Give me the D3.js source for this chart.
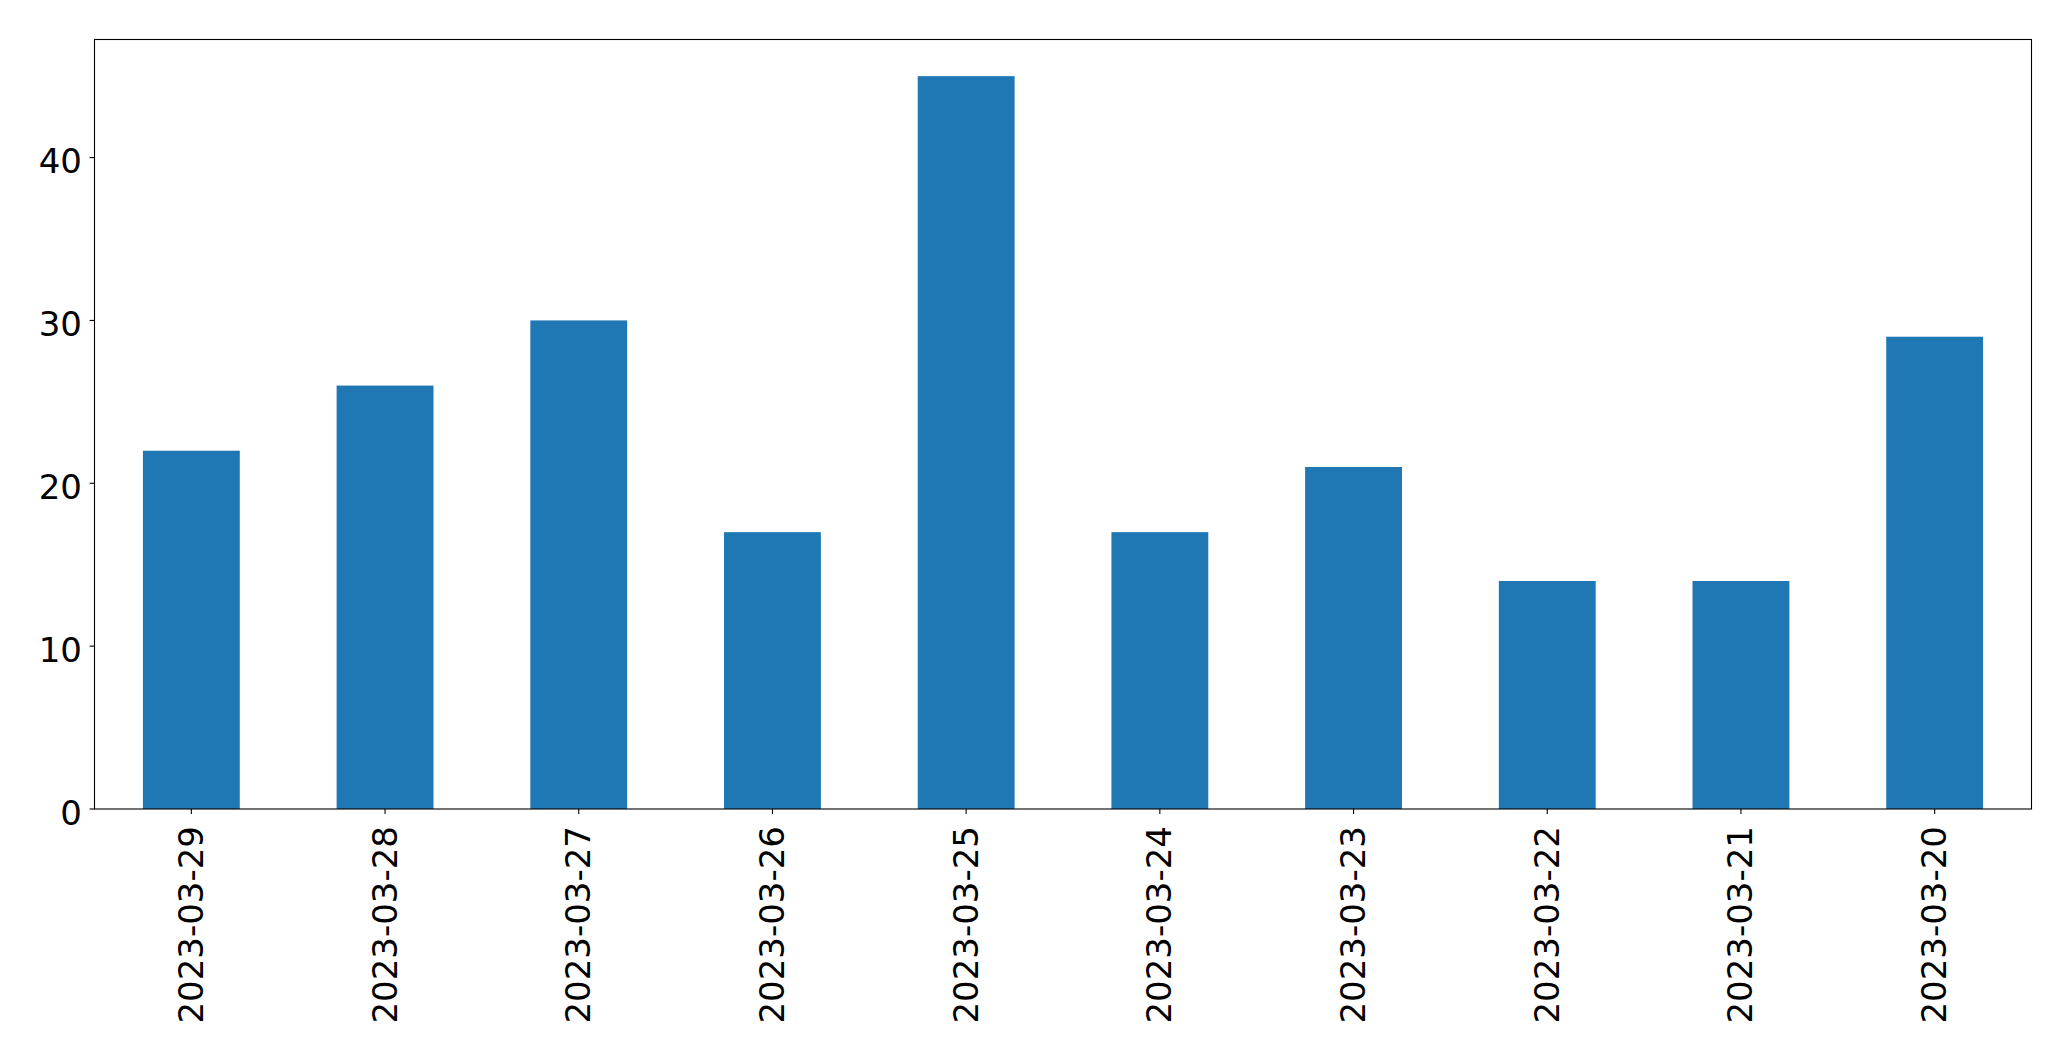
<html>
<head>
<style>
    body { margin: 0; background: #fff; }
    text { font-family: "DejaVu Sans", sans-serif; font-size: 34px; fill: #000; }
</style>
</head>
<body>
<div id="target"></div>
<script src="https://cdnjs.cloudflare.com/ajax/libs/d3/7.8.5/d3.min.js"></script>
<script>
    // data
    var dates = ['2023-03-29', '2023-03-28', '2023-03-27', '2023-03-26', '2023-03-25',
                 '2023-03-24', '2023-03-23', '2023-03-22', '2023-03-21', '2023-03-20'];
    var counts = [22, 26, 30, 17, 45, 17, 21, 14, 14, 29];
    var yTicks = [0, 10, 20, 30, 40];

    var width = 2071, height = 1061;
    // plot frame (window.top is reserved, so use a prefix)
    var plotL = 94.5, plotR = 2031.5, plotT = 39.5, plotB = 809;

    var svg = d3.select('#target').append('svg')
        .attr('width', width)
        .attr('height', height);

    // matplotlib style: each bar sits on an integer slot, xlim -0.5..n-0.5
    var x = d3.scaleLinear()
        .domain([-0.5, dates.length - 0.5])
        .range([plotL, plotR]);
    var y = d3.scaleLinear()
        .domain([0, d3.max(counts) * 1.05])
        .range([plotB, plotT]);

    var barW = x(0.25) - x(-0.25);

    svg.append('g').selectAll('rect')
        .data(counts)
        .enter()
        .append('rect')
        .attr('x', function (d, i) { return x(i) - barW / 2; })
        .attr('y', function (d) { return y(d); })
        .attr('width', barW)
        .attr('height', function (d) { return y(0) - y(d); })
        .attr('fill', '#1f77b4');

    // y axis
    var gy = svg.append('g').attr('class', 'yaxis');
    gy.selectAll('line')
        .data(yTicks)
        .enter()
        .append('line')
        .attr('x1', plotL - 4.9).attr('x2', plotL)
        .attr('y1', function (d) { return y(d); })
        .attr('y2', function (d) { return y(d); })
        .attr('stroke', '#000').attr('stroke-width', 1.1);
    gy.selectAll('text')
        .data(yTicks)
        .enter()
        .append('text')
        .attr('x', plotL - 12.5)
        .attr('y', function (d) { return y(d) + 15.5; })
        .attr('text-anchor', 'end')
        .text(function (d) { return d; });

    // x axis
    var gx = svg.append('g').attr('class', 'xaxis');
    gx.selectAll('line')
        .data(dates)
        .enter()
        .append('line')
        .attr('x1', function (d, i) { return x(i); })
        .attr('x2', function (d, i) { return x(i); })
        .attr('y1', plotB).attr('y2', plotB + 4.9)
        .attr('stroke', '#000').attr('stroke-width', 1.1);
    gx.selectAll('text')
        .data(dates)
        .enter()
        .append('text')
        .attr('transform', function (d, i) {
            return 'translate(' + (x(i) + 11.5) + ',' + (plotB + 17) + ') rotate(-90)';
        })
        .attr('text-anchor', 'end')
        .text(function (d) { return d; });

    // frame
    svg.append('rect')
        .attr('x', plotL).attr('y', plotT)
        .attr('width', plotR - plotL).attr('height', plotB - plotT)
        .attr('fill', 'none')
        .attr('stroke', '#000').attr('stroke-width', 1.1);
</script>
</body>
</html>
